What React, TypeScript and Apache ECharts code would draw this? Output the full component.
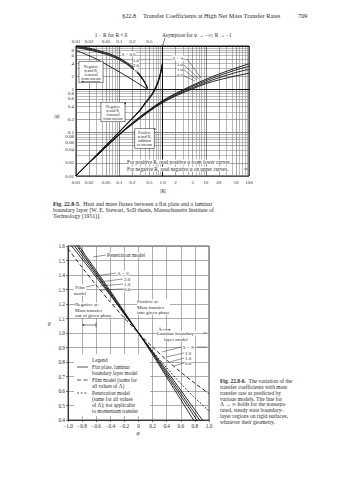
import React, { useEffect, useRef } from "react";
import * as echarts from "echarts";

// ---------- Fig. 22.8-5 (log-log) ----------
const DECADES_R = [0.01, 0.1, 1, 10];
const DECADES_PHI = [0.01, 0.1, 1];
const MANTISSAS = [1, 2, 3, 4, 5, 6, 7, 8, 9];
const R_LABELS = [0.01, 0.02, 0.05, 0.1, 0.2, 0.5, 1, 2, 5, 10, 20, 50, 100];
const R_LABEL_TEXT = ["0.01", "0.02", "0.05", "0.1", "0.2", "0.5", "1.0", "2", "5", "10", "20", "50", "100"];
const TOP_LABELS = [0.01, 0.02, 0.05, 0.1, 0.2, 0.5];
const TOP_LABEL_TEXT = ["0.01", "0.02", "0.05", "0.1", "0.2", "0.5"];
const PHI_LABELS = [0.01, 0.02, 0.04, 0.06, 0.08, 0.1, 0.2, 0.4, 0.6, 0.8, 1, 2, 4, 6, 8, 10];
const PHI_LABEL_TEXT = ["0.01", "0.02", "0.04", "0.06", "0.08", "0.1", "0.2", "0.4", "0.6", "0.8", "1", "2", "4", "6", "8", "10"];

// lower curves: positive R, positive phi
const POS_R = [0.01, 0.02, 0.05, 0.1, 0.2, 0.5, 1, 2, 5, 10, 20, 50, 100];
const POS_PHI_INF = [0.01, 0.02, 0.048, 0.092, 0.17, 0.34, 0.55, 0.8, 1.25, 1.7, 2.25, 3.1, 3.9];
const POS_PHI_20 = [0.01, 0.02, 0.048, 0.091, 0.165, 0.33, 0.53, 0.77, 1.18, 1.58, 2.05, 2.8, 3.4];
const POS_PHI_10 = [0.01, 0.02, 0.047, 0.09, 0.16, 0.32, 0.51, 0.73, 1.1, 1.45, 1.85, 2.45, 2.9];
const POS_PHI_06 = [0.01, 0.02, 0.047, 0.089, 0.155, 0.31, 0.49, 0.7, 1.03, 1.35, 1.65, 2.05, 2.35];

// upper curves: negative R, |phi|
const NEG_R = [0.01, 0.02, 0.05, 0.1, 0.2, 0.3, 0.4, 0.5, 0.6, 0.7, 0.8, 0.9, 0.95, 0.97];
const NEG_PHI_A = [0.0101, 0.0203, 0.052, 0.106, 0.217, 0.335, 0.5, 0.66, 0.86, 1.16, 1.62, 2.42, 3.2, 3.85];
const NEG_PHI_B = [0.0101, 0.0202, 0.051, 0.104, 0.212, 0.325, 0.48, 0.63, 0.82, 1.1, 1.54, 2.32, 3.05, 3.65];
const NEG_PHI_C = [0.0101, 0.0202, 0.051, 0.103, 0.208, 0.318, 0.465, 0.61, 0.79, 1.05, 1.47, 2.22, 2.92, 3.45];

// upper-left curves read against the top scale (1 - R for R < 0)
const TL_T = [0.01, 0.02, 0.05, 0.1, 0.2, 0.3, 0.4, 0.45];
const TL_PHI_06 = [10.2, 8.9, 7.0, 5.3, 3.35, 2.2, 1.4, 1.06];
const TL_PHI_10 = [9.7, 8.5, 6.7, 5.05, 3.2, 2.12, 1.37, 1.05];
const TL_PHI_20 = [9.2, 8.1, 6.4, 4.8, 3.05, 2.04, 1.34, 1.04];
const TL2_T = [0.01, 0.0275, 0.072, 0.178, 0.35, 0.45];
const TL2_PHI = [7.9, 5.2, 3.05, 1.8, 1.17, 1.0];

// ---------- Fig. 22.8-6 (linear) ----------
const PHI = [-1, -0.8, -0.6, -0.4, -0.2, 0, 0.2, 0.4, 0.6, 0.8, 1];
const THETA_INF = [1.72, 1.57, 1.43, 1.29, 1.145, 1, 0.85, 0.695, 0.54, 0.385, 0.23];
const THETA_20 = [1.69, 1.55, 1.415, 1.28, 1.14, 1, 0.86, 0.71, 0.565, 0.42, 0.27];
const THETA_10 = [1.66, 1.53, 1.4, 1.27, 1.135, 1, 0.865, 0.725, 0.585, 0.445, 0.31];
const THETA_06 = [1.63, 1.51, 1.385, 1.26, 1.13, 1, 0.87, 0.74, 0.605, 0.47, 0.34];
const THETA_FILM = [1.582, 1.452, 1.33, 1.213, 1.103, 1, 0.903, 0.813, 0.73, 0.653, 0.582];
const THETA_PEN = [1.71, 1.557, 1.411, 1.268, 1.13, 1, 0.876, 0.76, 0.652, 0.553, 0.462];

const SERIF = '"Liberation Serif", "DejaVu Serif", serif';
const INK = "#2a2a2a";
const lg = (v: number) => Math.log10(v);

const gridTicks = (decades: number[], last: number) => {
  const out: number[] = [];
  decades.forEach((d) => MANTISSAS.forEach((m) => out.push(m * d)));
  out.push(last);
  return out;
};

const labeler = (values: number[], texts: string[]) => (val: number) => {
  for (let i = 0; i < values.length; i++) {
    if (Math.abs(lg(values[i]) - val) < 1e-6) return texts[i];
  }
  return "";
};

const txt = (x: number, y: number, text: string, o: any = {}) => ({
  type: "text",
  x,
  y,
  z: 100,
  style: {
    text,
    fill: INK,
    fontSize: o.fs ?? 5,
    fontFamily: SERIF,
    fontStyle: o.italic ? "italic" : "normal",
    fontWeight: o.bold ? "bold" : "normal",
    align: o.align ?? "left",
    verticalAlign: o.va ?? "middle",
    backgroundColor: o.bg,
    borderColor: o.border,
    borderWidth: o.bw,
    padding: o.pad,
    lineHeight: o.lh,
    rich: o.rich,
  },
});
const seg = (x1: number, y1: number, x2: number, y2: number, w = 0.6, dash?: number[]) => ({
  type: "line",
  z: 100,
  shape: { x1, y1, x2, y2 },
  style: { stroke: INK, lineWidth: w, lineDash: dash },
});
const head = (x: number, y: number, dx: number, dy: number) => {
  const len = Math.hypot(dx, dy);
  const ux = dx / len, uy = dy / len;
  const s = 2.2, w = 1;
  return {
    type: "polygon",
    z: 100,
    shape: {
      points: [
        [x, y],
        [x - ux * s - uy * w, y - uy * s + ux * w],
        [x - ux * s + uy * w, y - uy * s - ux * w],
      ],
    },
    style: { fill: INK },
  };
};

export default function App() {
  const ref = useRef<HTMLDivElement>(null);
  useEffect(() => {
    if (!ref.current) return;
    const chart = echarts.init(ref.current, undefined, { renderer: "svg" });
    const rTicks = gridTicks(DECADES_R, 100).map(lg);
    const phiTicks = gridTicks(DECADES_PHI, 10).map(lg);
    const paper = ["#333", "#6a6a6a", "#8a8a8a", "#8a8a8a", "#6a6a6a", "#8a8a8a", "#8a8a8a", "#8a8a8a", "#8a8a8a"];
    const labelStyle = { fontSize: 5, fontFamily: SERIF, color: INK };

    const logLine = (xs: number[], ys: number[], w = 0.9) => ({
      type: "line",
      xAxisIndex: 0,
      yAxisIndex: 0,
      data: xs.map((x, i) => [lg(x), lg(ys[i])]),
      smooth: 0.35,
      symbol: "none",
      silent: true,
      lineStyle: { color: "#111", width: w },
      clip: true,
    });
    const linLine = (ys: number[], dash: any = "solid", w = 0.9) => ({
      type: "line",
      xAxisIndex: 2,
      yAxisIndex: 1,
      data: PHI.map((p, i) => [p, ys[i]]),
      smooth: 0.3,
      symbol: "none",
      silent: true,
      lineStyle: { color: "#111", width: w, type: dash },
      clip: true,
    });

    const fig5Caption = [
      "{b|Fig. 22.8-5.}  Heat and mass fluxes between a flat plate and a laminar",
      "boundary layer [W. E. Stewart, ScD thesis, Massachusetts Institute of",
      "Technology (1951)].",
    ];
    const fig6Caption = [
      "{b|Fig. 22.8-6.}  The variation of the",
      "transfer coefficients with mass",
      "transfer rate as predicted by",
      "various models. The line for",
      "Λ → ∞ holds for the nonsepa-",
      "rated, steady state boundary-",
      "layer regions on rigid surfaces,",
      "whatever their geometry.",
    ];
    const rich = { b: { fontWeight: "bold", fontFamily: SERIF, fontSize: 5.8, fill: INK } };
    const rich6 = { b: { fontWeight: "bold", fontFamily: SERIF, fontSize: 5.5, fill: INK } };

    const graphic: any[] = [
      // page header
      txt(122, 15, "§22.8", { fs: 6.3 }),
      txt(143, 15, "Transfer Coefficients at High Net Mass Transfer Rates", { fs: 6.3 }),
      txt(298, 15, "709", { fs: 6.3 }),
      // top chart annotations
      txt(111, 35, "1 − R for R < 0", { fs: 5.3, align: "center" }),
      txt(162, 35, "Asymptote for φ → −∞; R → −1", { fs: 5.3 }),
      seg(165, 38, 162.5, 46),
      txt(121, 54, "Λ = 0.6", { fs: 4.8, bg: "#fff" }),
      txt(133, 60, "1.0", { fs: 4.8, bg: "#fff" }),
      txt(133, 65, "2.0", { fs: 4.8, bg: "#fff" }),
      txt(134, 70, "∞", { fs: 4.8, bg: "#fff" }),
      txt(172, 58, "Λ = ∞", { fs: 4.8, bg: "#fff" }),
      txt(177, 64, "2.0", { fs: 4.8, bg: "#fff" }),
      txt(177, 69, "1.0", { fs: 4.8, bg: "#fff" }),
      txt(177, 75, "0.6", { fs: 4.8, bg: "#fff" }),
      seg(187, 59, 201, 78, 0.5),
      seg(184, 65, 199, 79, 0.5),
      seg(184, 70, 197, 80, 0.5),
      seg(184, 76, 195, 81, 0.5),
      txt(91, 72, "Negative\nφ and R,\nremoval\nfrom stream", {
        fs: 4, lh: 4, align: "center", bg: "#fff", border: "#222", bw: 0.6, pad: [1, 2, 4, 2],
      }),
      seg(100, 81.5, 82, 81.5, 0.5),
      head(81, 81.5, -1, 0),
      txt(113, 112, "Negative\nφ and R,\nremoval\nfrom stream", {
        fs: 4, lh: 4, align: "center", bg: "#fff", border: "#222", bw: 0.6, pad: [2, 2, 1, 2],
      }),
      head(126, 102, 0.5, -1),
      txt(144.5, 138.5, "Positive\nφ and R,\naddition\nto stream", {
        fs: 4, lh: 4, align: "center", bg: "#fff", border: "#222", bw: 0.6, pad: [2, 2, 1, 2],
      }),
      head(156, 128.5, 1, -0.4),
      txt(127, 162, "For positive R, read positive φ from lower curves.", { fs: 5.2, bg: "#fff" }),
      txt(127, 169, "For negative R, read negative φ on upper curves.", { fs: 5.2, bg: "#fff" }),
      seg(244, 169, 248, 169, 0.6),
      txt(57, 116, "|φ|", { fs: 5.5, align: "center" }),
      txt(163, 191, "|R|", { fs: 5.5, align: "center" }),
      // caption Fig 22.8-5
      ...fig5Caption.map((s, i) => txt(53, 204 + i * 6, s, { fs: 5.8, rich })),
      // bottom chart annotations
      txt(107, 255, "Penetration model", { fs: 5.2, bg: "#fff" }),
      seg(106, 255, 93, 257, 0.5),
      txt(117, 273, "Λ = ∞", { fs: 5, bg: "#fff" }),
      txt(124, 279, "2.0", { fs: 5, bg: "#fff" }),
      txt(124, 284, "1.0", { fs: 5, bg: "#fff" }),
      txt(124, 289, "0.6", { fs: 5, bg: "#fff" }),
      seg(116, 273, 96, 276, 0.5),
      seg(123, 279, 99, 282, 0.5),
      seg(123, 284, 100, 286, 0.5),
      seg(123, 289, 101, 290, 0.5),
      txt(80, 290, "Film\nmodel", { fs: 5, lh: 6, align: "center", bg: "#fff" }),
      seg(86, 287, 95, 285, 0.5),
      txt(75, 310, "Negative φ:\nMass transfer\nout of given phase", { fs: 5, lh: 5.2, bg: "#fff" }),
      seg(96, 325, 83, 325, 0.6),
      seg(96, 322.5, 96, 327.5, 0.6),
      head(82, 325, -1, 0),
      txt(137, 307, "Positive φ:\nMass transfer\ninto given phase", { fs: 5, lh: 5.2, bg: "#fff" }),
      seg(160, 330, 170, 330, 0.6),
      seg(160, 327.5, 160, 332.5, 0.6),
      head(171, 330, 1, 0),
      txt(157, 333, "Laminar boundary-", { fs: 5, bg: "#fff" }),
      txt(164, 339, "layer model", { fs: 5, bg: "#fff" }),
      seg(203, 333, 207, 333, 0.5),
      txt(182, 347, "Λ = ∞", { fs: 5, bg: "#fff" }),
      txt(185, 353, "2.0", { fs: 5, bg: "#fff" }),
      txt(185, 358, "1.0", { fs: 5, bg: "#fff" }),
      txt(185, 363, "0.6", { fs: 5, bg: "#fff" }),
      seg(181, 347, 162, 352, 0.5),
      seg(184, 353, 166, 357, 0.5),
      seg(184, 358, 170, 362, 0.5),
      seg(184, 363, 174, 366, 0.5),
      seg(197, 347, 207, 347, 0.5),
      // legend
      { type: "rect", z: 90, shape: { x: 74, y: 354, width: 76, height: 62 }, style: { fill: "#fff" } },
      txt(92, 360, "Legend", { fs: 5.2 }),
      seg(77, 367, 88, 367, 0.8),
      txt(92, 367, "Flat plate, laminar", { fs: 5.2 }),
      txt(92, 373, "boundary layer model", { fs: 5.2 }),
      seg(77, 380, 88, 380, 0.8, [4, 2.5]),
      txt(92, 380, "Film model (same for", { fs: 5.2 }),
      txt(92, 386, "all values of Λ)", { fs: 5.2 }),
      seg(77, 393, 88, 393, 0.8, [2, 1.7]),
      txt(92, 393, "Penetration model", { fs: 5.2 }),
      txt(92, 399, "(same for all values", { fs: 5.2 }),
      txt(92, 405, "of Λ); not applicable", { fs: 5.2 }),
      txt(92, 411, "to momentum transfer", { fs: 5.2 }),
      txt(49, 324, "θ", { fs: 5.5, italic: true, align: "center" }),
      txt(138, 433, "φ", { fs: 5.5, italic: true, align: "center" }),
      // caption Fig 22.8-6
      ...fig6Caption.map((s, i) => txt(220, 381 + i * 5.85, s, { fs: 5.5, rich: rich6 })),
    ];

    chart.setOption({
      animation: false,
      backgroundColor: "#fff",
      grid: [
        { left: 76, top: 46, width: 173, height: 130, show: true, borderColor: "#111", borderWidth: 1 },
        { left: 68, top: 246, width: 141, height: 174, show: true, borderColor: "#222", borderWidth: 0.8 },
      ],
      xAxis: [
        {
          gridIndex: 0,
          type: "value",
          min: -2,
          max: 2,
          position: "bottom",
          axisLine: { show: true, lineStyle: { color: "#111", width: 1 } },
          axisTick: { show: false, customValues: rTicks },
          axisLabel: { ...labelStyle, margin: 4, customValues: R_LABELS.map(lg), formatter: labeler(R_LABELS, R_LABEL_TEXT) },
          splitLine: { show: true, lineStyle: { color: paper, width: 0.6 } },
        },
        {
          gridIndex: 0,
          type: "value",
          min: -2,
          max: 2,
          position: "top",
          axisLine: { show: true, lineStyle: { color: "#111", width: 1 } },
          axisTick: { show: false },
          axisLabel: { ...labelStyle, margin: 2, customValues: TOP_LABELS.map(lg), formatter: labeler(TOP_LABELS, TOP_LABEL_TEXT) },
          splitLine: { show: false },
        },
        {
          gridIndex: 1,
          type: "value",
          min: -1,
          max: 1,
          interval: 0.2,
          axisLine: { show: true, onZero: false, lineStyle: { color: "#222", width: 0.8 } },
          axisTick: { show: true, length: 2, lineStyle: { color: "#222", width: 0.6 } },
          axisLabel: {
            ...labelStyle,
            fontSize: 5.3,
            margin: 3,
            formatter: (v: number) => (Math.abs(v) < 1e-9 ? "0" : (v < 0 ? "−" : "") + Math.abs(v).toFixed(1)),
          },
          splitLine: { show: true, lineStyle: { color: "#8a8a8a", width: 0.7 } },
        },
      ],
      yAxis: [
        {
          gridIndex: 0,
          type: "value",
          min: -2,
          max: 1,
          axisLine: { show: true, lineStyle: { color: "#111", width: 1 } },
          axisTick: { show: false, customValues: phiTicks },
          axisLabel: { ...labelStyle, margin: 2, customValues: PHI_LABELS.map(lg), formatter: labeler(PHI_LABELS, PHI_LABEL_TEXT) },
          splitLine: { show: true, lineStyle: { color: paper, width: 0.6 } },
        },
        {
          gridIndex: 1,
          type: "value",
          min: 0.4,
          max: 1.6,
          interval: 0.1,
          axisLine: { show: true, onZero: false, lineStyle: { color: "#222", width: 0.8 } },
          axisTick: { show: true, length: 2, lineStyle: { color: "#222", width: 0.6 } },
          axisLabel: { ...labelStyle, fontSize: 5.3, margin: 3, formatter: (v: number) => v.toFixed(1) },
          splitLine: { show: true, lineStyle: { color: "#8a8a8a", width: 0.7 } },
        },
      ],
      series: [
        logLine(POS_R, POS_PHI_INF),
        logLine(POS_R, POS_PHI_20),
        logLine(POS_R, POS_PHI_10),
        logLine(POS_R, POS_PHI_06),
        logLine(NEG_R, NEG_PHI_A),
        logLine(NEG_R, NEG_PHI_B),
        logLine(NEG_R, NEG_PHI_C),
        logLine(TL_T, TL_PHI_06),
        logLine(TL_T, TL_PHI_10),
        logLine(TL_T, TL_PHI_20),
        logLine(TL2_T, TL2_PHI),
        linLine(THETA_INF),
        linLine(THETA_20),
        linLine(THETA_10),
        linLine(THETA_06),
        linLine(THETA_FILM, [4, 2.5]),
        linLine(THETA_PEN, [1.8, 1.6]),
      ],
      graphic,
    });
    return () => chart.dispose();
  }, []);
  return (
    <div
      ref={ref}
      style={{ position: "absolute", left: 0, top: 0, width: 359, height: 480, background: "#fff" }}
    />
  );
}
